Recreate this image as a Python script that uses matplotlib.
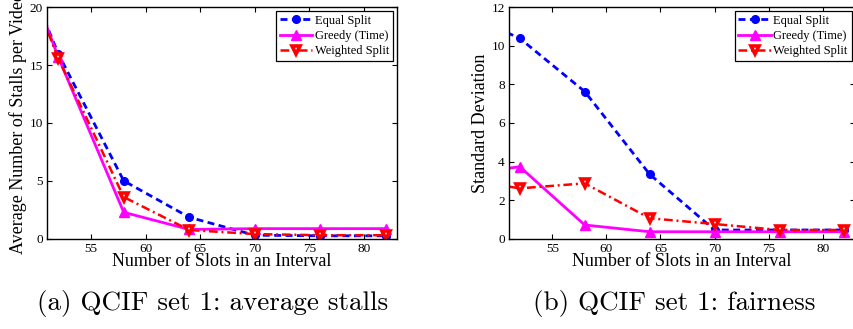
import numpy as np
from matplotlib import pyplot as plt

# Slots per interval (46 is outside the visible range, only the line into it shows)
slots = [46, 52, 58, 64, 70, 76, 82]

# (a) average number of stalls per video
stallsEqual = [29.8, 16.0, 5.0, 1.85, 0.3, 0.25, 0.25]
stallsGreedy = [30.7, 15.7, 2.28, 0.8, 0.87, 0.87, 0.87]
stallsWeighted = [30.0, 15.6, 3.6, 0.75, 0.4, 0.3, 0.3]

# (b) standard deviation (fairness)
stdEqual = [11.9, 10.39, 7.63, 3.34, 0.45, 0.45, 0.45]
stdGreedy = [3.3, 3.73, 0.71, 0.36, 0.36, 0.36, 0.36]
stdWeighted = [3.15, 2.61, 2.87, 1.06, 0.76, 0.45, 0.45]

seriesNames = ["Equal Split", "Greedy (Time)", "Weighted Split"]
captions = ["(a) QCIF set 1: average stalls", "(b) QCIF set 1: fairness"]

plt.rcParams['font.family'] = ['Liberation Serif', 'DejaVu Serif']

fig = plt.figure(figsize=(8.54, 3.29), dpi=100)
axA = fig.add_axes([0.0554, 0.2745, 0.4091, 0.7033])
axB = fig.add_axes([0.596, 0.2745, 0.4055, 0.7033])


def drawPanel(ax, eq, gr, wt, ylabel, ymax, yticks):
    ax.plot(slots, eq, color='b', ls='--', lw=2, marker='o', ms=5.5,
            mfc='b', mec='b', dashes=(2.5, 1.6), label=seriesNames[0])
    ax.plot(slots, gr, color='magenta', ls='-', lw=2, marker='^', ms=7,
            mfc='magenta', mec='magenta', label=seriesNames[1])
    ax.plot(slots, wt, color='r', ls='-.', lw=1.8, marker='v', ms=6,
            mfc='w', mec='r', mew=2.6, dashes=(3.5, 1.5, 0.8, 1.5), label=seriesNames[2])
    ax.set_xlim(51, 83)
    ax.set_ylim(0, ymax)
    ax.set_xticks([55, 60, 65, 70, 75, 80])
    ax.set_yticks(yticks)
    ax.tick_params(direction='in', top=True, right=True, labelsize=9.5,
                   length=3.5, width=0.8, pad=3)
    for s in ax.spines.values():
        s.set_linewidth(1.0)
    ax.set_xlabel("Number of Slots in an Interval", fontsize=13, labelpad=-1)
    ax.set_ylabel(ylabel, fontsize=13, labelpad=2)
    leg = ax.legend(loc='upper right', fontsize=9, fancybox=False, framealpha=1,
                    edgecolor='k', borderpad=0.3, labelspacing=0.25,
                    handlelength=2.6, handletextpad=0.2, borderaxespad=0.3)
    leg.get_frame().set_linewidth(0.9)


drawPanel(axA, stallsEqual, stallsGreedy, stallsWeighted,
          "Average Number of Stalls per Video", 20, [0, 5, 10, 15, 20])
drawPanel(axB, stdEqual, stdGreedy, stdWeighted,
          "Standard Deviation", 12, [0, 2, 4, 6, 8, 10, 12])

# Captions under each panel
fig.text(0.249, 0.076, captions[0], ha='center', va='center',
         fontsize=19.5, family='cmr10')
fig.text(0.79, 0.076, captions[1], ha='center', va='center',
         fontsize=19.5, family='cmr10')

fig.savefig("out.png", dpi=100)
